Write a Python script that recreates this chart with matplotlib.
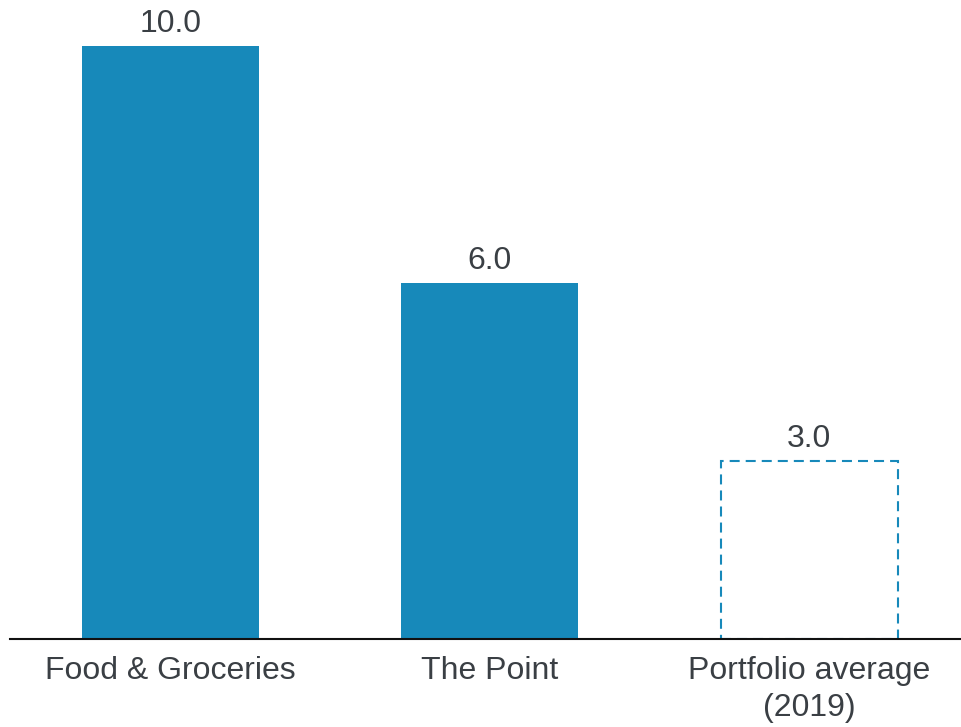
import matplotlib
matplotlib.use("Agg")
import matplotlib.pyplot as plt

categories = ["Food & Groceries", "The Point", "Portfolio average\n(2019)"]
values = [10.0, 6.0, 3.0]
dashed = [False, False, True]

BAR_COLOR = "#1789BA"
TEXT_COLOR = "#3A3F44"

plt.rcParams["font.family"] = ["Liberation Sans", "DejaVu Sans"]

fig = plt.figure(figsize=(9.62, 7.27), dpi=100)
ax = fig.add_axes([10 / 962, 88 / 727, 952 / 962, 593 / 727])

x = list(range(len(categories)))
width = 0.555
for xi, v, d in zip(x, values, dashed):
    if d:
        ax.bar(xi, v, width=width, facecolor="none", edgecolor=BAR_COLOR,
               linewidth=1.5, linestyle=(0, (4.8, 2.9)))
    else:
        ax.bar(xi, v, width=width, color=BAR_COLOR, linewidth=0)
    ax.annotate(f"{v:.1f}", (xi, v), xytext=(0, 5), textcoords="offset points",
                ha="center", va="bottom", fontsize=23, color=TEXT_COLOR)

ax.set_xlim(-0.502, 2.478)
ax.set_ylim(0, 10)
ax.set_xticks(x)
ax.set_xticklabels(categories, fontsize=23, color=TEXT_COLOR, linespacing=1.3)
ax.tick_params(axis="x", length=0, pad=12)
ax.set_yticks([])
for side in ["top", "right", "left"]:
    ax.spines[side].set_visible(False)
ax.spines["bottom"].set_color("#111111")
ax.spines["bottom"].set_linewidth(1.5)

fig.savefig("out.png", dpi=100)
